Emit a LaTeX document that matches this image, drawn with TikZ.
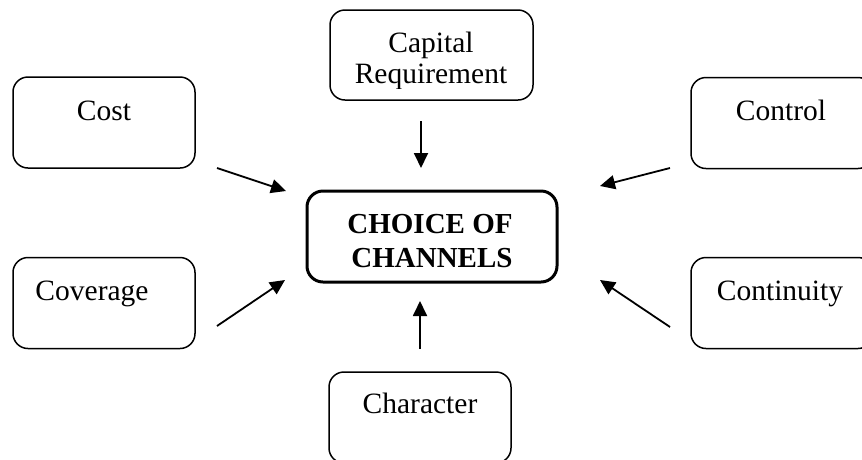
\documentclass[tikz,border=0pt]{standalone}
\usepackage{fontspec}
\setmainfont{Liberation Serif}
\usetikzlibrary{arrows.meta}
\begin{document}
\begin{tikzpicture}[x=1pt,y=-1pt,
  box/.style={draw=black, line width=1.5pt, rounded corners=15pt, minimum width=182pt, minimum height=91pt, inner sep=0pt},
  mainbox/.style={draw=black, line width=3pt, rounded corners=16pt, minimum width=250pt, minimum height=91pt, inner sep=0pt},
  lbl/.style={anchor=base, inner sep=0pt, font=\fontsize{29.5}{34}\selectfont},
  blbl/.style={anchor=base, inner sep=0pt, font=\fontsize{29}{34}\selectfont\bfseries},
  arr/.style={line width=1.8pt, -{Triangle[length=15pt,width=14pt]}}]
\useasboundingbox (0,0) rectangle (862,459);
\fill[white] (0,0) rectangle (862,459);
% boxes
\node[box, minimum width=203pt, minimum height=90pt] (cap) at (431.5,55) {};
\node[box] (cost) at (104,122.5) {};
\node[box] (ctrl) at (782,123) {};
\node[mainbox] (main) at (432,236.5) {};
\node[box] (cov) at (104,303) {};
\node[box] (cont) at (782,303) {};
\node[box] (char) at (420,417.5) {};
% labels
\begin{scope}
\clip (331,11) rectangle (532,88);
\node[lbl] (capt1) at (431,52) {Capital};
\node[lbl] (capt2) at (431,83) {Requirement};
\end{scope}
\node[lbl] (costt) at (104,120) {Cost};
\node[lbl] (ctrlt) at (781,120) {Control};
\node[blbl] (maint1) at (430,233) {CHOICE OF};
\node[blbl] (maint2) at (432,267) {CHANNELS};
\node[lbl] (covt) at (92,300) {Coverage};
\node[lbl] (contt) at (780,300) {Continuity};
\node[lbl] (chart) at (420,413) {Character};
% connector ends
\coordinate (a1s) at (421,121);  \coordinate (a1e) at (421,168);
\coordinate (a2s) at (217,168);  \coordinate (a2e) at (286,191);
\coordinate (a3s) at (670,168);  \coordinate (a3e) at (600,186);
\coordinate (a4s) at (217,326);  \coordinate (a4e) at (285,280);
\coordinate (a5s) at (670,327);  \coordinate (a5e) at (600,280);
\coordinate (a6s) at (420,349);  \coordinate (a6e) at (420,301);
\draw[arr] (a1s) -- (a1e);
\draw[arr] (a2s) -- (a2e);
\draw[arr] (a3s) -- (a3e);
\draw[arr] (a4s) -- (a4e);
\draw[arr] (a5s) -- (a5e);
\draw[arr] (a6s) -- (a6e);
\end{tikzpicture}
\end{document}
